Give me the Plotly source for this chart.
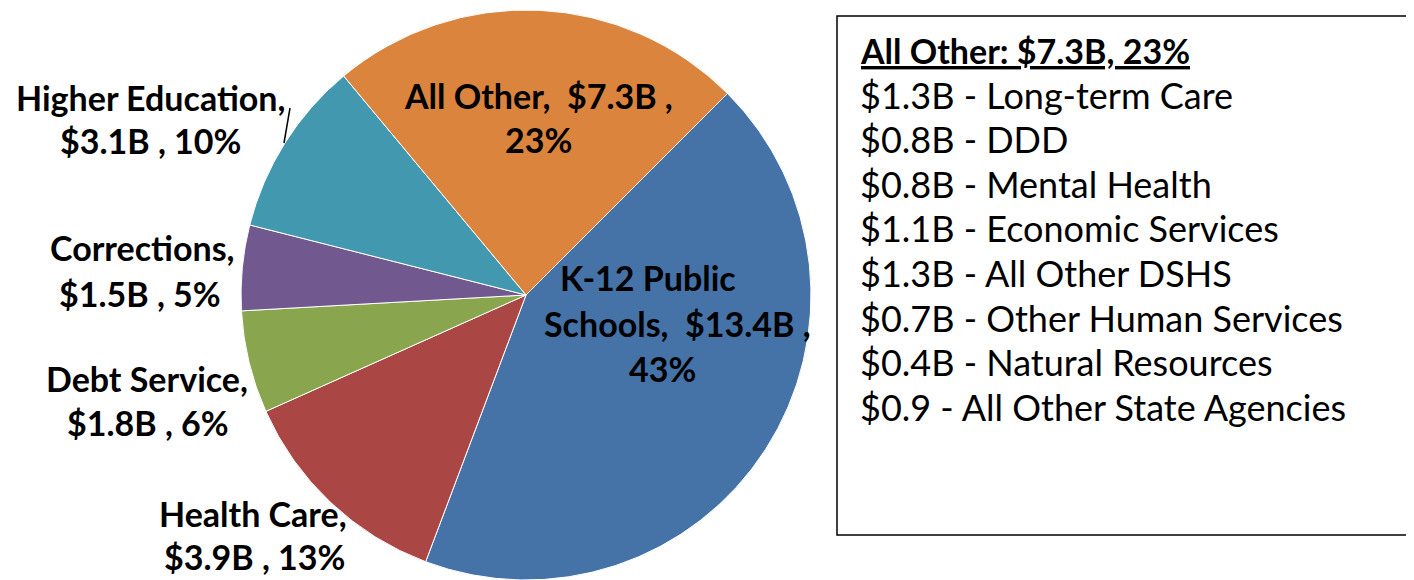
import plotly.graph_objects as go

# ---- data ----
categories = ["K-12 Public Schools", "Health Care", "Debt Service", "Corrections",
              "Higher Education", "All Other"]
values_b = [13.4, 3.9, 1.8, 1.5, 3.1, 7.3]
percents = [43, 13, 6, 5, 10, 23]
colors = ["#4572A7", "#AA4643", "#89A54E", "#71588F", "#4198AF", "#DB843D"]

box_title = "All Other: $7.3B, 23%"
box_amounts = ["$1.3B", "$0.8B", "$0.8B", "$1.1B", "$1.3B", "$0.7B", "$0.4B", "$0.9"]
box_items = ["Long-term Care", "DDD", "Mental Health", "Economic Services",
             "All Other DSHS", "Other Human Services", "Natural Resources",
             "All Other State Agencies"]

W, H = 1414, 580
OFF = 8  # page body margin
FONT = "Lato"

def px(x, y):
    return (x - OFF) / W, 1 - (y - OFF) / H

cx, cy, R = 526 - OFF, 295 - OFF, 285
fig = go.Figure()
fig.add_trace(go.Pie(
    labels=categories, values=values_b, sort=False, direction="clockwise",
    rotation=45, textinfo="none", hoverinfo="label+value+percent",
    marker=dict(colors=colors, line=dict(color="white", width=1)),
    domain=dict(x=[(cx - R) / W, (cx + R) / W],
                y=[(H - cy - R) / H, (H - cy + R) / H]),
    showlegend=False,
))

# slice labels (text lines with their pixel centres)
label_lines = [
    ("Higher Education,", 150, 97), (f"${values_b[4]}B , {percents[4]}%", 150, 141),
    ("Corrections,", 142, 248), (f"${values_b[3]}B , {percents[3]}%", 140, 293),
    ("Debt Service,", 147, 378), (f"${values_b[2]}B , {percents[2]}%", 148, 422),
    ("Health Care,", 253, 513), (f"${values_b[1]}B , {percents[1]}%", 254, 556),
    (f"All Other,  ${values_b[5]}B ,", 538, 95), (f"{percents[5]}%", 538, 139),
    ("K-12 Public", 648, 278), (f"Schools,  ${values_b[0]}B ,", 677, 323),
    (f"{percents[0]}%", 662, 368),
]
for txt, x, y in label_lines:
    ax, ay = px(x, y)
    fig.add_annotation(x=ax, y=ay, xref="paper", yref="paper", text=f"<b>{txt}</b>",
                       showarrow=False, xanchor="center", yanchor="middle",
                       font=dict(family=FONT, size=34, color="black"))

# leader line for Higher Education
x0, y0 = px(290, 108)
x1, y1 = px(284, 143)
fig.add_shape(type="line", xref="paper", yref="paper", x0=x0, y0=y0, x1=x1, y1=y1,
              line=dict(color="black", width=1.5))

# side box
bx0, by0 = px(837, 16)
bx1, by1 = px(1430, 535)
fig.add_shape(type="rect", xref="paper", yref="paper", x0=bx0, y0=by1, x1=bx1, y1=by0,
              line=dict(color="black", width=1.5), fillcolor="white", layer="below")

tx = (858 - OFF) / W
ty0 = 50
step = 44.6
fig.add_annotation(x=tx, y=px(0, ty0)[1], xref="paper", yref="paper",
                   text=f"<b><u>{box_title}</u></b>", showarrow=False,
                   xanchor="left", yanchor="middle",
                   font=dict(family=FONT, size=34, color="black"))
for i, (amt, item) in enumerate(zip(box_amounts, box_items)):
    y = ty0 + step * (i + 1)
    fig.add_annotation(x=tx, y=px(0, y)[1], xref="paper", yref="paper",
                       text=f"{amt} - {item}", showarrow=False,
                       xanchor="left", yanchor="middle",
                       font=dict(family=FONT, size=36, color="black"))

fig.update_layout(width=W, height=H, margin=dict(l=0, r=0, t=0, b=0),
                  paper_bgcolor="white", plot_bgcolor="white")
fig.write_html("out.html")
